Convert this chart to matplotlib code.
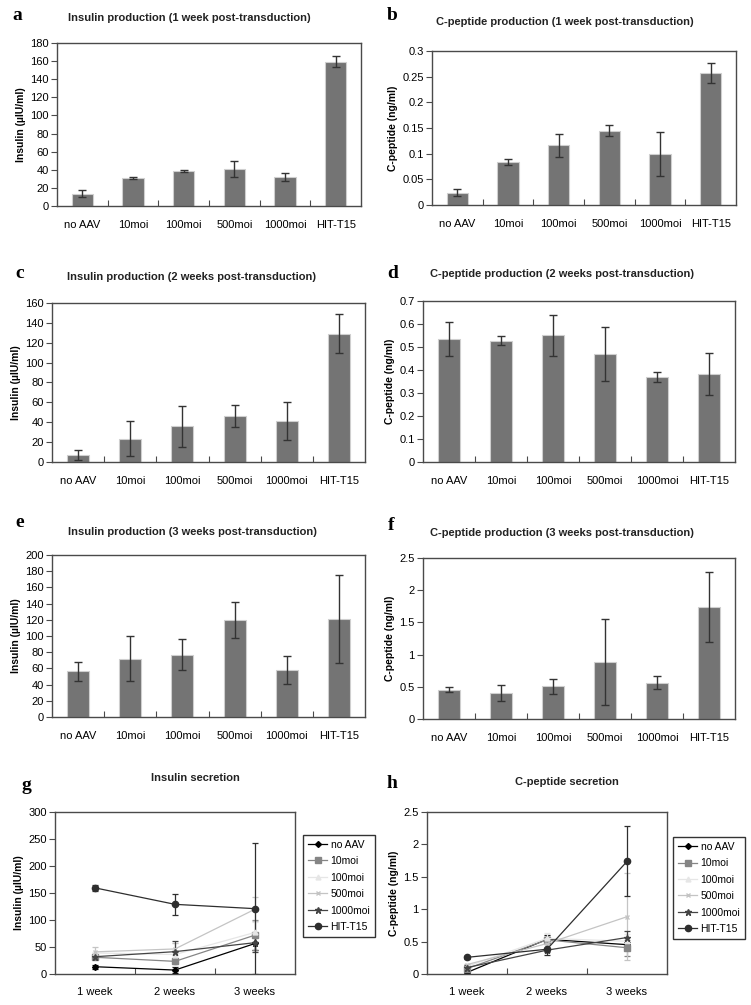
import matplotlib
matplotlib.use('Agg')
import matplotlib.pyplot as plt
import numpy as np
from matplotlib.ticker import FormatStrFormatter, FixedLocator
from matplotlib.lines import Line2D

plt.rcParams['font.family'] = ['Liberation Sans', 'DejaVu Sans']

# DATA
#===========================================================================
groups = ['no AAV', '10moi', '100moi', '500moi', '1000moi', 'HIT-T15']
weeks = ['1 week', '2 weeks', '3 weeks']

ins_1wk = [13.5, 31, 39, 41, 32, 159.5]
ins_1wk_err = [4, 1.5, 1, 8.5, 4, 6]
ins_2wk = [7.3, 23.4, 36, 46.4, 41.4, 129]
ins_2wk_err = [5, 17.5, 20.7, 11, 19.4, 19.5]
ins_3wk = [56.5, 72, 77, 120, 58, 121]
ins_3wk_err = [12, 28, 19, 22.5, 17, 54]
# error bars in the secretion line plot (HIT-T15 at 3 weeks drawn larger there)
ins_3wk_err_line = [12, 28, 19, 22.5, 17, 121]

cpep_1wk = [0.024, 0.083, 0.116, 0.145, 0.099, 0.257]
cpep_1wk_err = [0.0065, 0.006, 0.022, 0.01, 0.043, 0.02]
cpep_2wk = [0.535, 0.527, 0.550, 0.470, 0.368, 0.382]
cpep_2wk_err = [0.072, 0.019, 0.087, 0.116, 0.022, 0.09]
cpep_3wk = [0.453, 0.405, 0.505, 0.884, 0.563, 1.737]
cpep_3wk_err = [0.04, 0.125, 0.12, 0.67, 0.1, 0.54]

# line styles for secretion plots
line_colors = ['#000000', '#858585', '#e6e6e6', '#c4c4c4', '#444444', '#2e2e2e']
line_markers = ['D', 's', '^', 'x', '*', 'o']
marker_sizes = [3, 4.5, 3.5, 3.5, 4.5, 4.5]

# FIGURE
#===========================================================================
W, H = 751, 1005
fig = plt.figure(figsize=(W / 100, H / 100), dpi=100)

def px_axes(x0, y0, x1, y1):
    return fig.add_axes([x0 / W, 1 - y1 / H, (x1 - x0) / W, (y1 - y0) / H])

SPINE = '#4a4a4a'
BAR = '#747474'
FS = 8

def style_axes(ax):
    for s in ax.spines.values():
        s.set_color(SPINE)
        s.set_linewidth(1.0)
    ax.tick_params(axis='y', which='major', length=4, width=0.8, color=SPINE,
                   labelsize=FS, pad=2)
    ax.tick_params(axis='x', which='major', length=0, labelsize=FS, pad=10)
    ax.tick_params(axis='x', which='minor', length=4, width=0.8, color=SPINE,
                   direction='in')

def bar_panel(box, vals, errs, ymax, step, ylabel, fmt):
    ax = px_axes(*box)
    x = np.arange(len(groups))
    ax.bar(x, vals, width=0.42, color=BAR, edgecolor='#cfcfcf', linewidth=0.8,
           zorder=2)
    ax.errorbar(x, vals, yerr=errs, fmt='none', ecolor='#333333', elinewidth=1.0,
                capsize=3, capthick=1.0, zorder=3)
    ax.set_xlim(-0.5, len(groups) - 0.5)
    ax.set_ylim(0, ymax)
    ax.set_yticks(np.arange(0, ymax + step / 2, step))
    ax.yaxis.set_major_formatter(FormatStrFormatter(fmt))
    ax.set_xticks(x)
    ax.set_xticklabels(groups)
    ax.xaxis.set_minor_locator(FixedLocator(x[:-1] + 0.5))
    ax.set_ylabel(ylabel, fontsize=7.5, fontweight='bold', labelpad=3)
    style_axes(ax)
    return ax

def line_panel(box, series, errs, ymax, step, ylabel, fmt, legend_xy):
    ax = px_axes(*box)
    x = np.arange(1, len(weeks) + 1)
    handles = []
    for i, g in enumerate(groups):
        ax.errorbar(x, series[i], yerr=errs[i], color=line_colors[i],
                    marker=line_markers[i], markersize=marker_sizes[i],
                    linewidth=0.9, elinewidth=0.9, capsize=2.5, capthick=0.9)
        handles.append(Line2D([], [], color=line_colors[i], marker=line_markers[i],
                              markersize=marker_sizes[i], linewidth=0.9, label=g))
    ax.set_xlim(0.5, len(weeks) + 0.5)
    ax.set_ylim(0, ymax)
    ax.set_yticks(np.arange(0, ymax + step / 2, step))
    ax.yaxis.set_major_formatter(FormatStrFormatter(fmt))
    ax.set_xticks(x)
    ax.set_xticklabels(weeks)
    ax.xaxis.set_minor_locator(FixedLocator([1.5, 2.5]))
    ax.set_ylabel(ylabel, fontsize=7.5, fontweight='bold', labelpad=3)
    style_axes(ax)
    ax.tick_params(axis='x', which='major', pad=9)
    leg = ax.legend(handles=handles, loc='upper left',
                    bbox_to_anchor=(legend_xy[0] / W, 1 - legend_xy[1] / H),
                    bbox_transform=fig.transFigure, fontsize=7.5, frameon=True,
                    fancybox=False, edgecolor='#333333', framealpha=1,
                    handlelength=1.9, handletextpad=0.3, labelspacing=0.62,
                    borderpad=0.45, borderaxespad=0)
    leg.get_frame().set_linewidth(1.0)
    return ax

# BAR PANELS
#===========================================================================
ins_label = 'Insulin (\u00b5IU/ml)'
cpep_label = 'C-peptide (ng/ml)'

bar_panel((57, 43, 361, 206), ins_1wk, ins_1wk_err, 180, 20, ins_label, '%g')
bar_panel((432, 51, 736, 205), cpep_1wk, cpep_1wk_err, 0.3, 0.05, cpep_label, '%g')
bar_panel((52, 303, 365, 462), ins_2wk, ins_2wk_err, 160, 20, ins_label, '%g')
bar_panel((423, 301, 735, 462), cpep_2wk, cpep_2wk_err, 0.7, 0.1, cpep_label, '%g')
bar_panel((52, 555, 365, 717), ins_3wk, ins_3wk_err, 200, 20, ins_label, '%g')
bar_panel((423, 558, 735, 719), cpep_3wk, cpep_3wk_err, 2.5, 0.5, cpep_label, '%g')

# LINE PANELS
#===========================================================================
ins_series = [list(v) for v in zip(ins_1wk, ins_2wk, ins_3wk)]
ins_errs = [list(v) for v in zip(ins_1wk_err, ins_2wk_err, ins_3wk_err_line)]
cpep_series = [list(v) for v in zip(cpep_1wk, cpep_2wk, cpep_3wk)]
cpep_errs = [list(v) for v in zip(cpep_1wk_err, cpep_2wk_err, cpep_3wk_err)]

line_panel((55, 812, 295, 974), ins_series, ins_errs, 300, 50, ins_label, '%g', (303, 835))
line_panel((427, 812, 667, 974), cpep_series, cpep_errs, 2.5, 0.5, cpep_label, '%g', (673, 837))

# TITLES AND PANEL LETTERS
#===========================================================================
titles = [
    (189, 18, 'Insulin production (1 week post-transduction)'),
    (565, 22, 'C-peptide production (1 week post-transduction)'),
    (191, 277, 'Insulin production (2 weeks post-transduction)'),
    (562, 274, 'C-peptide production (2 weeks post-transduction)'),
    (192, 532, 'Insulin production (3 weeks post-transduction)'),
    (562, 533, 'C-peptide production (3 weeks post-transduction)'),
    (195, 778, 'Insulin secretion'),
    (567, 782, 'C-peptide secretion'),
]
for x, y, t in titles:
    fig.text(x / W, 1 - y / H, t, ha='center', va='center', fontsize=8,
             fontweight='bold', color='#222222')

letters = [(12, 15, 'a'), (387, 15, 'b'), (15, 273, 'c'), (387, 273, 'd'),
           (15, 522, 'e'), (388, 525, 'f'), (22, 786, 'g'), (387, 783, 'h')]
for x, y, t in letters:
    fig.text(x / W, 1 - y / H, t, ha='left', va='center', fontsize=14,
             fontweight='bold', family='Liberation Serif')

fig.savefig('out.png', dpi=100)
